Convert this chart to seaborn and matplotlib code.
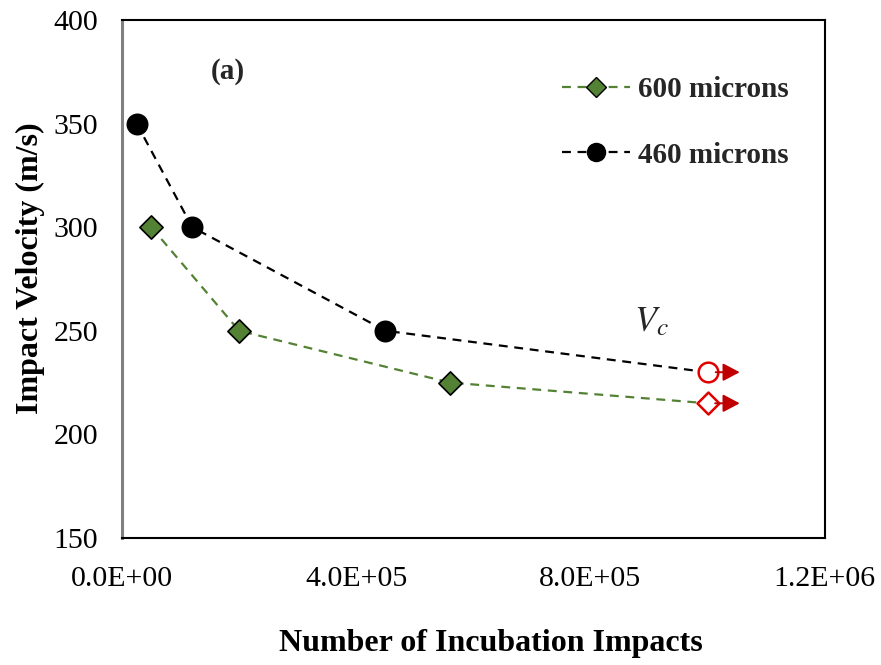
import matplotlib
matplotlib.use("Agg")
import matplotlib.pyplot as plt
import seaborn as sns
import pandas as pd
from matplotlib.lines import Line2D

# Data
x_600 = [5.0e4, 2.0e5, 5.6e5]
y_600 = [300, 250, 225]
x_460 = [2.5e4, 1.2e5, 4.5e5]
y_460 = [350, 300, 250]
vc_x = [1.0e6, 1.0e6]
vc_y = [215, 230]          # 600 microns, 460 microns (critical velocity)
series_names = ["600 microns", "460 microns"]
x_ticks = [0, 4e5, 8e5, 1.2e6]
x_tick_labels = ["0.0E+00", "4.0E+05", "8.0E+05", "1.2E+06"]
y_ticks = [150, 200, 250, 300, 350, 400]

sns.set_theme(style="white")
plt.rcParams["font.family"] = ["Liberation Serif", "DejaVu Serif"]
plt.rcParams["mathtext.fontset"] = "stix"

green = "#548235"
red = "#E00000"
darkred = "#C00000"

fig = plt.figure(figsize=(8.81, 6.65), dpi=100)
ax = fig.add_axes([0.1385, 0.191, 0.7975, 0.779])

df600 = pd.DataFrame({"x": x_600 + [vc_x[0]], "y": y_600 + [vc_y[0]]})
df460 = pd.DataFrame({"x": x_460 + [vc_x[1]], "y": y_460 + [vc_y[1]]})

sns.lineplot(data=df600, x="x", y="y", ax=ax, color=green, linestyle=(0, (4, 3)),
             linewidth=1.6, sort=False)
sns.lineplot(data=df460, x="x", y="y", ax=ax, color="black", linestyle=(0, (4, 3)),
             linewidth=1.6, sort=False)

sns.scatterplot(x=x_600, y=y_600, ax=ax, marker="D", s=140, color=green,
                edgecolor="black", linewidth=1.2, zorder=3)
sns.scatterplot(x=x_460, y=y_460, ax=ax, marker="o", s=220, color="black",
                edgecolor="black", linewidth=1.0, zorder=3)

# open red markers for Vc
ax.scatter([vc_x[1]], [vc_y[1]], marker="o", s=200, facecolor="white",
           edgecolor=red, linewidth=1.8, zorder=4)
ax.scatter([vc_x[0]], [vc_y[0]], marker="D", s=125, facecolor="white",
           edgecolor=red, linewidth=1.8, zorder=4)

# arrows
for xv, yv, off in [(vc_x[1], vc_y[1], 1.4e4), (vc_x[0], vc_y[0], 1.3e4)]:
    ax.annotate("", xy=(xv + 5.5e4, yv), xytext=(xv + off, yv),
                arrowprops=dict(arrowstyle="-|>,head_length=0.85,head_width=0.45",
                                color=darkred, lw=1.4, shrinkA=0, shrinkB=0),
                zorder=4)

ax.set_xlim(0, 1.2e6)
ax.set_ylim(150, 400)
ax.set_xticks(x_ticks)
ax.set_xticklabels(x_tick_labels)
ax.set_yticks(y_ticks)
ax.tick_params(axis="both", length=0, labelsize=21.5, colors="black")
ax.tick_params(axis="x", pad=20)
ax.tick_params(axis="y", pad=17)

for sp in ax.spines.values():
    sp.set_visible(True)
    sp.set_color("black")
    sp.set_linewidth(1.5)
ax.spines["left"].set_color("#808080")
ax.spines["left"].set_linewidth(2.2)

ax.set_xlabel("Number of Incubation Impacts", fontsize=23, fontweight="bold",
              color="black")
ax.set_ylabel("Impact Velocity (m/s)", fontsize=23, fontweight="bold",
              color="black")
ax.yaxis.set_label_coords(-0.110, 0.52)
ax.xaxis.set_label_coords(0.525, -0.175)

ax.text(0.151, 0.90, "(a)", transform=ax.transAxes, fontsize=21,
        fontweight="bold", ha="center", va="center")
ax.text(9.05e5, 254, r"$V_c$", fontsize=26, ha="center", va="center")

handles = [
    Line2D([0], [0], color=green, linestyle=(0, (4, 3)), linewidth=1.6,
           marker="D", markersize=10, markerfacecolor=green,
           markeredgecolor="black"),
    Line2D([0], [0], color="black", linestyle=(0, (4, 3)), linewidth=1.6,
           marker="o", markersize=13, markerfacecolor="black",
           markeredgecolor="black"),
]
leg = ax.legend(handles, series_names, loc="upper left",
                bbox_to_anchor=(0.626, 0.891), frameon=False,
                prop={"family": "Liberation Serif", "weight": "bold", "size": 21},
                labelspacing=1.31, handlelength=2.35, handletextpad=0.25,
                borderpad=0, borderaxespad=0)

fig.savefig("out.png", dpi=100, facecolor="white")
